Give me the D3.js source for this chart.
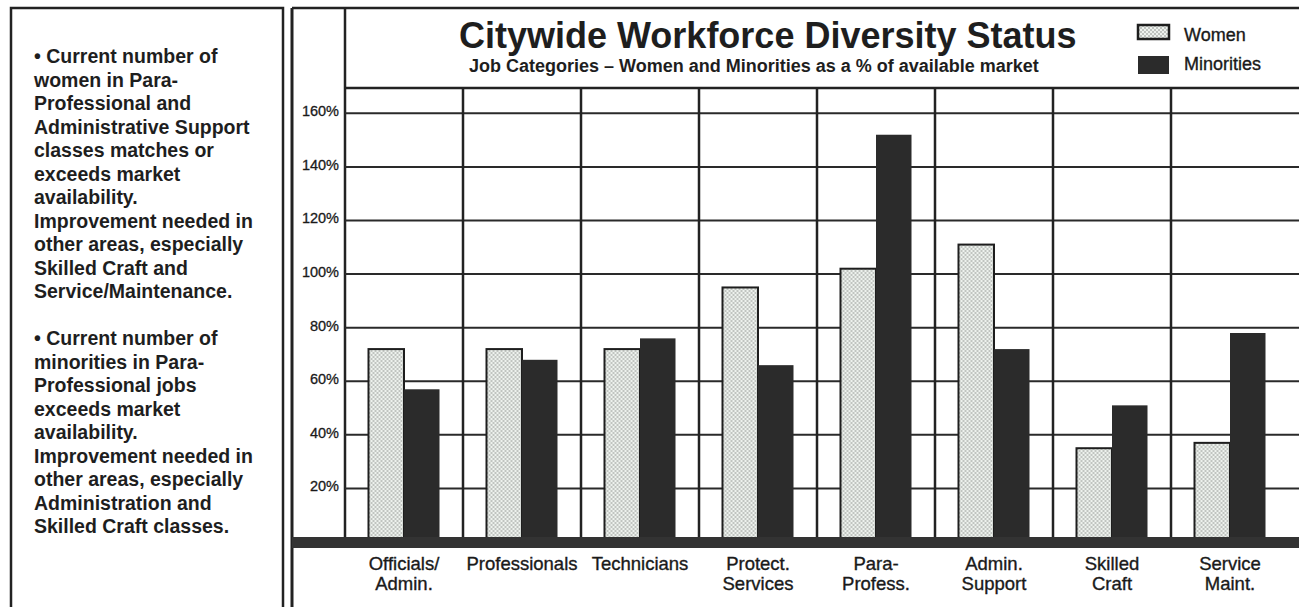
<!DOCTYPE html>
<meta charset="utf-8">
<style>
body { margin: 0; background: #fff; }
svg { display: block; font-family: "Liberation Sans", Arial, Helvetica, sans-serif; }
.frame { fill: none; stroke: #222; stroke-width: 2.5px; }
.grid line { stroke: #2a2a2a; stroke-width: 2px; }
.cols line { stroke: #222; stroke-width: 2.5px; }
.ylab { font-size: 14.5px; fill: #1a1a1a; stroke: #1a1a1a; stroke-width: 0.3px; }
.xlab { font-size: 18.5px; fill: #1a1a1a; stroke: #1a1a1a; stroke-width: 0.35px; }
.note { font-size: 19.5px; font-weight: bold; fill: #1e1e1e; }
</style>
<svg width="1299" height="607"></svg>
<script src="https://d3js.org/d3.v7.min.js"></script>
<script>
var svg = d3.select("svg"),
    width = +svg.attr("width"),
    height = +svg.attr("height");

// chart data
var categories = ["Officials/ Admin.", "Professionals", "Technicians", "Protect. Services",
                  "Para- Profess.", "Admin. Support", "Skilled Craft", "Service Maint."];
var catLines = [["Officials/", "Admin."], ["Professionals"], ["Technicians"], ["Protect.", "Services"],
                ["Para-", "Profess."], ["Admin.", "Support"], ["Skilled", "Craft"], ["Service", "Maint."]];
var series = ["Women", "Minorities"];
var women = [72, 72, 72, 95, 102, 111, 35, 37];
var minorities = [57, 68, 76, 66, 152, 72, 51, 78];
var yTicks = [20, 40, 60, 80, 100, 120, 140, 160];

var notes = [
  "• Current number of", "women in Para-", "Professional and", "Administrative Support",
  "classes matches or", "exceeds market", "availability.", "Improvement needed in",
  "other areas, especially", "Skilled Craft and", "Service/Maintenance.", "",
  "• Current number of", "minorities in Para-", "Professional jobs", "exceeds market",
  "availability.", "Improvement needed in", "other areas, especially", "Administration and",
  "Skilled Craft classes."
];

var data = categories.map(function(c, i) {
  return {cat: c, lines: catLines[i], values: [
    {key: "Women", value: women[i]},
    {key: "Minorities", value: minorities[i]}
  ]};
});

// stipple pattern for the women bars
var defs = svg.append("defs");
var pat = defs.append("pattern")
    .attr("id", "stipple")
    .attr("width", 4).attr("height", 4)
    .attr("patternUnits", "userSpaceOnUse");
pat.append("rect").attr("width", 4).attr("height", 4).attr("fill", "#eef2ee");
pat.append("circle").attr("cx", 1).attr("cy", 1).attr("r", 0.8).attr("fill", "#858b85");
pat.append("circle").attr("cx", 3).attr("cy", 3).attr("r", 0.8).attr("fill", "#858b85");

var colour = {Women: "url(#stipple)", Minorities: "#2b2b2b"};

// plot geometry
var plotLeft = 345, plotRight = 1289, plotTop = 88, frameTop = 8;

var x = d3.scaleBand().domain(categories).range([plotLeft, plotRight]);
var pairW = 71;
var x1 = d3.scaleBand().domain(series).range([0, pairW]);
var y = d3.scaleLinear().domain([0, 160]).range([542, 113.3]);

// left note box
svg.append("rect").attr("class", "frame")
    .attr("x", 11).attr("y", 8).attr("width", 272).attr("height", height + 10);

svg.append("g").selectAll("text")
    .data(notes)
    .enter().append("text")
    .attr("class", "note")
    .attr("x", 34)
    .attr("y", function(d, i) { return 63 + i * 23.5; })
    .text(function(d) { return d; });

// chart frame
svg.append("line").attr("x1", 292).attr("x2", width).attr("y1", frameTop).attr("y2", frameTop)
    .attr("stroke", "#222").attr("stroke-width", 2.5);
svg.append("line").attr("x1", 292).attr("x2", 292).attr("y1", frameTop).attr("y2", height)
    .attr("stroke", "#222").attr("stroke-width", 3);
svg.append("line").attr("x1", plotLeft).attr("x2", plotLeft).attr("y1", frameTop).attr("y2", 545)
    .attr("stroke", "#222").attr("stroke-width", 2.5);
svg.append("line").attr("x1", plotLeft).attr("x2", width).attr("y1", plotTop).attr("y2", plotTop)
    .attr("stroke", "#222").attr("stroke-width", 2.5);

// horizontal gridlines
svg.append("g").attr("class", "grid")
    .selectAll("line")
    .data(yTicks)
    .enter().append("line")
    .attr("x1", plotLeft).attr("x2", width)
    .attr("y1", function(d) { return y(d); })
    .attr("y2", function(d) { return y(d); });

// column separators
svg.append("g").attr("class", "cols")
    .selectAll("line")
    .data(categories.slice(1))
    .enter().append("line")
    .attr("x1", function(d) { return x(d); })
    .attr("x2", function(d) { return x(d); })
    .attr("y1", plotTop).attr("y2", 540);

// y labels
svg.append("g")
    .selectAll("text")
    .data(yTicks)
    .enter().append("text")
    .attr("class", "ylab")
    .attr("x", 339)
    .attr("y", function(d) { return y(d) + 3; })
    .attr("text-anchor", "end")
    .text(function(d) { return d + "%"; });

// bars
var groups = svg.append("g")
    .selectAll("g")
    .data(data)
    .enter().append("g")
    .attr("transform", function(d) {
      return "translate(" + (x(d.cat) + (x.bandwidth() - pairW) / 2) + ",0)";
    });

groups.selectAll("rect")
    .data(function(d) { return d.values; })
    .enter().append("rect")
    .attr("x", function(d) { return x1(d.key); })
    .attr("width", x1.bandwidth())
    .attr("y", function(d) { return y(d.value); })
    .attr("height", function(d) { return y(0) - y(d.value); })
    .attr("fill", function(d) { return colour[d.key]; })
    .attr("stroke", function(d) { return d.key == "Women" ? "#1e1e1e" : "none"; })
    .attr("stroke-width", 2);

// thick base band
svg.append("rect")
    .attr("x", 292).attr("y", 537)
    .attr("width", width - 292).attr("height", 11)
    .attr("fill", "#333");

// category labels
var labs = svg.append("g")
    .selectAll("text")
    .data(data)
    .enter().append("text")
    .attr("class", "xlab")
    .attr("text-anchor", "middle")
    .attr("x", function(d) { return x(d.cat) + x.bandwidth() / 2; })
    .attr("y", 570);

labs.selectAll("tspan")
    .data(function(d) { return d.lines; })
    .enter().append("tspan")
    .attr("x", function() { return d3.select(this.parentNode).attr("x"); })
    .attr("dy", function(d, i) { return i == 0 ? 0 : 20; })
    .text(function(d) { return d; });

// title and subtitle
svg.append("text")
    .attr("x", 459).attr("y", 48)
    .attr("font-size", "36px").attr("font-weight", "bold").attr("fill", "#1e1e1e")
    .text("Citywide Workforce Diversity Status");

svg.append("text")
    .attr("x", 469).attr("y", 72)
    .attr("font-size", "18px").attr("font-weight", "bold").attr("fill", "#1e1e1e")
    .text("Job Categories – Women and Minorities as a % of available market");

// legend
var legend = svg.append("g")
    .selectAll("g")
    .data(series)
    .enter().append("g")
    .attr("transform", function(d, i) { return "translate(1138," + (i == 0 ? 25 : 56) + ")"; });

legend.append("rect")
    .attr("width", 31)
    .attr("height", function(d, i) { return i == 0 ? 14 : 18; })
    .attr("fill", function(d) { return colour[d]; })
    .attr("stroke", function(d) { return d == "Women" ? "#1e1e1e" : "none"; })
    .attr("stroke-width", 2.5);

legend.append("text")
    .attr("x", 46)
    .attr("y", function(d, i) { return i == 0 ? 16 : 14; })
    .attr("font-size", "18px").attr("fill", "#1a1a1a")
    .attr("stroke", "#1a1a1a").attr("stroke-width", 0.35)
    .text(function(d) { return d; });
</script>
